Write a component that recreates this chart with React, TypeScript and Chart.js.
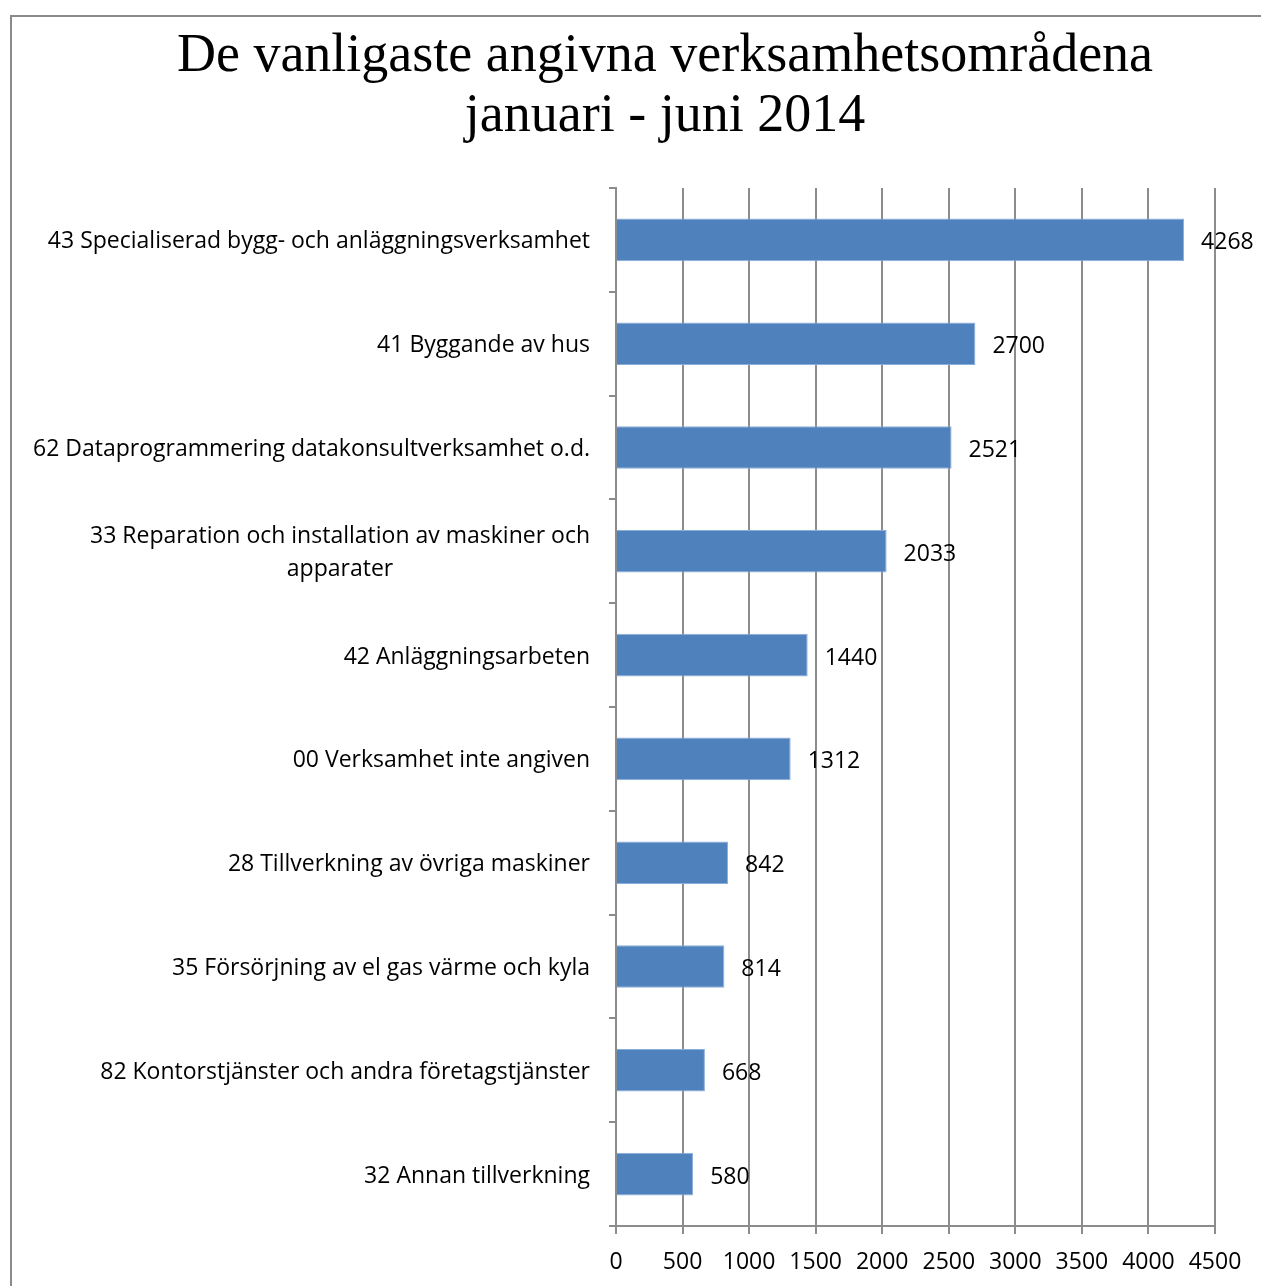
import React, { useEffect, useRef } from 'react';
import { Chart, registerables } from 'chart.js';

Chart.register(...registerables);

const titleLines = ['De vanligaste angivna verksamhetsområdena', 'januari - juni 2014'];

const categories: (string | string[])[] = [
  '43 Specialiserad bygg- och anläggningsverksamhet',
  '41 Byggande av hus',
  '62 Dataprogrammering datakonsultverksamhet o.d.',
  ['33 Reparation och installation av maskiner och', 'apparater'],
  '42 Anläggningsarbeten',
  '00 Verksamhet inte angiven',
  '28 Tillverkning av övriga maskiner',
  '35 Försörjning av el gas värme och kyla',
  '82 Kontorstjänster och andra företagstjänster',
  '32 Annan tillverkning',
];

const values = [4268, 2700, 2521, 2033, 1440, 1312, 842, 814, 668, 580];

const xMin = 0;
const xMax = 4500;
const xStep = 500;

const GRID = '#8c8c8c';
const LABEL_FONT = '23px "Open Sans"';

const textPlugin = {
  id: 'textPlugin',
  afterDraw(chart: any) {
    const ctx = chart.ctx as CanvasRenderingContext2D;
    const xs = chart.scales.x;
    const ys = chart.scales.y;
    ctx.save();
    ctx.fillStyle = '#000';

    // title
    ctx.font = '54px "Liberation Serif"';
    ctx.textAlign = 'center';
    ctx.textBaseline = 'alphabetic';
    ctx.fillText(titleLines[0], 665, 71);
    ctx.fillText(titleLines[1], 665, 131);

    // category labels
    ctx.font = LABEL_FONT;
    ctx.textBaseline = 'middle';
    ctx.textAlign = 'center';
    categories.forEach((c, i) => {
      const py = ys.getPixelForTick(i) + 2;
      const lines = Array.isArray(c) ? c : [c];
      const lh = 33;
      const maxW = Math.max(...lines.map((l) => ctx.measureText(l).width));
      const cx = xs.left - 26 - maxW / 2;
      lines.forEach((l, k) => {
        ctx.fillText(l, cx, py + (k - (lines.length - 1) / 2) * lh);
      });
    });

    // x tick labels
    ctx.textAlign = 'center';
    xs.ticks.forEach((t: any) => {
      ctx.fillText(String(t.value), xs.getPixelForValue(t.value), 1262);
    });

    // data labels
    ctx.textAlign = 'left';
    const meta = chart.getDatasetMeta(0);
    meta.data.forEach((bar: any, i: number) => {
      ctx.fillText(String(values[i]), xs.getPixelForValue(values[i]) + 17, bar.y + 3);
    });
    ctx.restore();
  },
};

export default function App() {
  const ref = useRef<HTMLCanvasElement | null>(null);
  useEffect(() => {
    if (!ref.current) return;
    const chart = new Chart(ref.current, {
      type: 'bar',
      data: {
        labels: categories as any,
        datasets: [
          {
            data: values,
            backgroundColor: '#4F81BD',
            borderColor: '#8aaedb',
            borderWidth: 1,
            barPercentage: 0.41,
            categoryPercentage: 1,
          },
        ],
      },
      options: {
        indexAxis: 'y',
        responsive: false,
        animation: false,
        layout: { padding: { left: 616, right: 46, top: 188, bottom: 60 } },
        plugins: {
          legend: { display: false },
          title: { display: false },
          tooltip: { enabled: false },
        },
        scales: {
          x: {
            type: 'linear',
            min: xMin,
            max: xMax,
            ticks: { stepSize: xStep, display: false },
            grid: { color: GRID, lineWidth: 2, drawTicks: true, tickLength: 8 },
            border: { display: true, color: GRID, width: 2 },
            afterFit: (s: any) => {
              s.height = 0;
            },
          },
          y: {
            type: 'category',
            ticks: { display: false },
            grid: {
              color: GRID,
              lineWidth: 2,
              offset: true,
              drawOnChartArea: false,
              drawTicks: true,
              tickLength: 7,
            },
            border: { display: true, color: GRID, width: 2 },
            afterFit: (s: any) => {
              s.width = 0;
            },
          },
        },
      },
      plugins: [textPlugin],
    });
    return () => chart.destroy();
  }, []);

  return (
    <div
      style={{
        position: 'absolute',
        left: 0,
        top: 0,
        width: 1261,
        height: 1286,
        overflow: 'hidden',
        background: '#fff',
      }}
    >
      <div
        style={{
          position: 'absolute',
          left: 10,
          top: 15,
          width: 1300,
          height: 1300,
          borderLeft: '2px solid #8a8a8a',
          borderTop: '2px solid #8a8a8a',
        }}
      />
      <canvas
        ref={ref}
        width={1261}
        height={1286}
        style={{ position: 'absolute', left: 0, top: 0 }}
      />
    </div>
  );
}
